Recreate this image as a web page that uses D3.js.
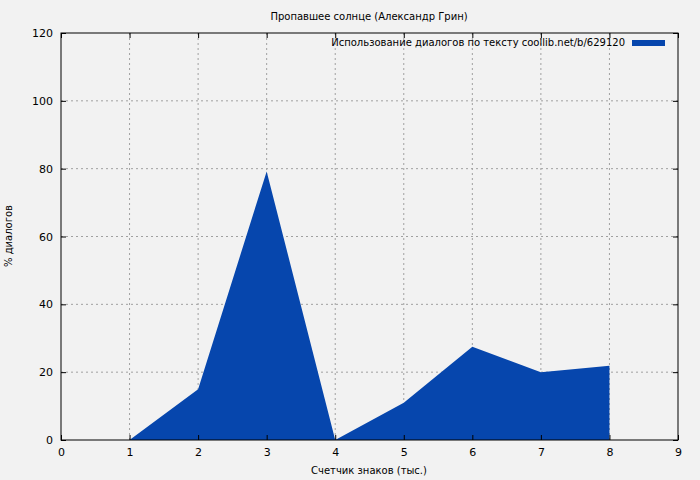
<!DOCTYPE html>
<html><head><meta charset="utf-8">
<script src="https://cdn.jsdelivr.net/npm/d3@7"></script>
<style>body{margin:0;background:#f2f2f2}svg{font-family:"DejaVu Sans",sans-serif}</style>
</head><body><svg id="c" width="700" height="480"></svg>
<script>
var xs = [1, 2, 3, 4, 5, 6, 7, 8];
var pct = [0, 15, 79.2, 0, 11, 27.5, 20, 21.9];
var xTicks = [0, 1, 2, 3, 4, 5, 6, 7, 8, 9];
var yTicks = [0, 20, 40, 60, 80, 100, 120];

var svg = d3.select("#c");
svg.append("rect").attr("width", 700).attr("height", 480).attr("fill", "#f2f2f2");
var L = 61, R = 678, T = 33, B = 440;
var x = d3.scaleLinear().domain([0, 9]).range([L, R]);
var y = d3.scaleLinear().domain([0, 120]).range([B, T]);

// grid
var g = svg.append("g").attr("stroke", "#a0a0a0").attr("stroke-dasharray", "2,3").attr("stroke-width", 1);
xTicks.slice(1, -1).forEach(function(t) {
  g.append("line").attr("x1", x(t)).attr("x2", x(t)).attr("y1", T).attr("y2", B);
});
yTicks.slice(1, -1).forEach(function(t) {
  g.append("line").attr("x1", L).attr("x2", R).attr("y1", y(t)).attr("y2", y(t));
});

// area
var area = d3.area().x(function(d, i) { return x(xs[i]); }).y0(y(0)).y1(function(d) { return y(d); });
svg.append("path").datum(pct).attr("d", area).attr("fill", "#0646ad");

// frame
svg.append("rect").attr("x", L).attr("y", T).attr("width", R - L).attr("height", B - T)
  .attr("fill", "none").attr("stroke", "#000");

var xa = svg.append("g").attr("transform", "translate(0," + B + ")")
  .call(d3.axisBottom(x).tickValues(xTicks).tickSize(-5).tickPadding(8));
var xa2 = svg.append("g").attr("transform", "translate(0," + T + ")")
  .call(d3.axisTop(x).tickValues(xTicks).tickSize(-5).tickFormat(""));
var ya = svg.append("g").attr("transform", "translate(" + L + ",0)")
  .call(d3.axisLeft(y).tickValues(yTicks).tickSize(-5).tickPadding(8));
var ya2 = svg.append("g").attr("transform", "translate(" + R + ",0)")
  .call(d3.axisRight(y).tickValues(yTicks).tickSize(-5).tickFormat(""));
[xa, xa2, ya, ya2].forEach(function(a) {
  a.select(".domain").remove();
  a.selectAll("text").attr("font-size", 11).attr("font-family", "DejaVu Sans").attr("fill", "#000");
});

svg.append("text").attr("x", 369).attr("y", 20).attr("text-anchor", "middle").attr("font-size", 10)
  .text("Пропавшее солнце (Александр Грин)");
svg.append("text").attr("x", 369).attr("y", 474).attr("text-anchor", "middle").attr("font-size", 10)
  .text("Счетчик знаков (тыс.)");
svg.append("text").attr("transform", "translate(12,236) rotate(-90)").attr("text-anchor", "middle").attr("font-size", 10)
  .text("% диалогов");
svg.append("text").attr("x", 625).attr("y", 46).attr("text-anchor", "end").attr("font-size", 10)
  .text("Использование диалогов по тексту coollib.net/b/629120");
svg.append("rect").attr("x", 632).attr("y", 40).attr("width", 33).attr("height", 6).attr("fill", "#0646ad");
</script></body></html>
